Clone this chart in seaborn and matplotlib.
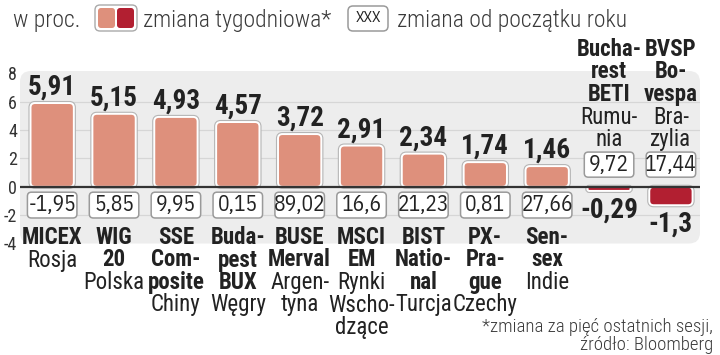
import matplotlib
matplotlib.use("Agg")
import matplotlib.pyplot as plt
import matplotlib.patheffects as pe
import matplotlib.transforms as mtransforms
from matplotlib.patches import FancyBboxPatch
import pandas as pd
import seaborn as sns

# --- data ---
names = ["MICEX", "WIG 20", "SSE Composite", "Budapest BUX", "BUSE Merval", "MSCI EM",
         "BIST National", "PX-Prague", "Sensex", "Bucharest BETI", "BVSP Bovespa"]
name_lines = ["MICEX", "WIG\n20", "SSE\nCom-\nposite", "Buda-\npest\nBUX", "BUSE\nMerval",
              "MSCI\nEM", "BIST\nNatio-\nnal", "PX-\nPra-\ngue", "Sen-\nsex",
              "Bucha-\nrest\nBETI", "BVSP\nBo-\nvespa"]
countries = ["Rosja", "Polska", "Chiny", "Węgry", "Argen-\ntyna", "Rynki\nWscho-\ndzące",
             "Turcja", "Czechy", "Indie", "Rumu-\nnia", "Bra-\nzylia"]
weekly = [5.91, 5.15, 4.93, 4.57, 3.72, 2.91, 2.34, 1.74, 1.46, -0.29, -1.3]
ytd = [-1.95, 5.85, 9.95, 0.15, 89.02, 16.6, 21.23, 0.81, 27.66, 9.72, 17.44]
yticks = [-4, -2, 0, 2, 4, 6, 8]

UP = "#de907c"
DOWN = "#b21f31"
INK = "#222222"
SOFT = "#3a3a3a"
W, H = 720, 355
COND = ["Roboto Condensed", "DejaVu Sans"]
PLEX = ["IBM Plex Sans Condensed", "Roboto Condensed", "DejaVu Sans"]


def fmt(v):
    return str(v).replace(".", ",")


def inch(px, py):
    # pixel position (top-left origin) -> inches for dpi_scale_trans
    return px / 100, (H - py) / 100


sns.set_theme(style="white")
plt.rcParams["font.family"] = COND
plt.rcParams["axes.unicode_minus"] = False

df = pd.DataFrame({"name": names, "weekly": weekly})
df["dir"] = ["up" if v >= 0 else "down" for v in weekly]

fig = plt.figure(figsize=(W / 100, H / 100), dpi=100)
ax = fig.add_axes([20 / W, (H - 243.5) / H, 680 / W, 172.5 / H])
ax.set_facecolor("none")

sns.barplot(data=df, x="name", y="weekly", hue="dir", palette={"up": UP, "down": DOWN},
            width=0.7, saturation=1, legend=False, ax=ax, zorder=3)

ax.set_xlim(-0.52, 10.47)
ax.set_ylim(-4.0, 8.17)
ax.set_yticks(yticks)
ax.set_yticklabels([str(t) for t in yticks], fontsize=13, color="#333333")
ax.tick_params(axis="y", length=0, pad=2)
ax.set_xticks([])
ax.set_xlabel("")
ax.set_ylabel("")
for s in ax.spines.values():
    s.set_visible(False)

# rounded grey panel behind the bars
bb = ax.get_window_extent()
panel = FancyBboxPatch((0, 0), 1, 1, boxstyle="round,pad=0,rounding_size=0.016",
                       mutation_aspect=bb.width / bb.height, transform=ax.transAxes,
                       fc="#ededed", ec="none", zorder=0, clip_on=False)
ax.add_patch(panel)
for t in [-2, 2, 4, 6]:
    ax.axhline(t, color="#d6d6d6", lw=0.9, zorder=1)
ax.axhline(0, color="#333333", lw=1.6, zorder=4)

# swap seaborn's rectangles for rounded ones
ppx = bb.width / (10.47 + 0.52)
ppy = bb.height / (8.17 + 4.0)
asp = ppx / ppy
for p in list(ax.patches):
    if p is panel:
        continue
    x, y, w, h = p.get_x(), p.get_y(), p.get_width(), p.get_height()
    if h < 0:
        y, h = y + h, -h
    r = min(4.5 / ppx, h * ppy / ppx / 2)
    fb = FancyBboxPatch((x, y), w, h, boxstyle=f"round,pad=0,rounding_size={r}",
                        mutation_aspect=asp, fc=p.get_facecolor(), ec="white", lw=1.4,
                        zorder=3)
    fb.set_path_effects([pe.Stroke(linewidth=3.0, foreground="#b5b5b5"), pe.Normal()])
    ax.add_patch(fb)
    p.remove()

# weekly value labels and year-to-date boxes
bw = 0.8
for i, (v, yv) in enumerate(zip(weekly, ytd)):
    if v >= 0:
        ax.annotate(fmt(v), xy=(i, v), xytext=(0, 6), textcoords="offset points",
                    ha="center", va="baseline", fontsize=19.5, fontweight="bold", color=INK)
        y0, y1 = -2.2, -0.38
    else:
        ax.annotate(fmt(v), xy=(i, v), xytext=(0, -4), textcoords="offset points",
                    ha="center", va="top", fontsize=19.5, fontweight="bold", color=INK)
        y0, y1 = 0.68, 2.45
    box = FancyBboxPatch((i - bw / 2, y0), bw, y1 - y0,
                         boxstyle=f"round,pad=0,rounding_size={4 / ppx}",
                         mutation_aspect=asp, fc="white", ec="#9a9a9a", lw=1.1, zorder=5)
    ax.add_patch(box)
    ax.text(i, (y0 + y1) / 2, fmt(yv), ha="center", va="center", fontsize=15.5,
            family=PLEX, color=INK, zorder=6)

# category labels: index name in bold, country in regular weight
tr = mtransforms.blended_transform_factory(ax.transData, fig.dpi_scale_trans)
for i in range(len(names)):
    lines = [(s, "bold") for s in name_lines[i].split("\n")]
    lines += [(s, "normal") for s in countries[i].split("\n")]
    base = 56 if weekly[i] < 0 else 244
    for k, (s, wgt) in enumerate(lines):
        ax.text(i, (H - (base + 22.5 * k)) / 100, s, transform=tr, ha="center",
                va="baseline", fontsize=16.5, fontweight=wgt, color=INK, clip_on=False)

# legend row
ds = fig.dpi_scale_trans
fig.text(*inch(13, 27), "w proc.", transform=ds, fontsize=17, color=SOFT,
         va="baseline", fontweight="light")
fig.patches.append(FancyBboxPatch(inch(95, 31), 0.42, 0.26,
                                  boxstyle="round,pad=0,rounding_size=0.05",
                                  fc="white", ec="#aaaaaa", lw=1, transform=ds, figure=fig))
fig.patches.append(FancyBboxPatch(inch(98, 28), 0.17, 0.20,
                                  boxstyle="round,pad=0,rounding_size=0.03",
                                  fc=UP, ec="none", transform=ds, figure=fig))
fig.patches.append(FancyBboxPatch(inch(117, 28), 0.17, 0.20,
                                  boxstyle="round,pad=0,rounding_size=0.03",
                                  fc=DOWN, ec="none", transform=ds, figure=fig))
fig.text(*inch(143, 27), "zmiana tygodniowa*", transform=ds, fontsize=17,
         color=SOFT, va="baseline", fontweight="light")
fig.patches.append(FancyBboxPatch(inch(348, 31), 0.40, 0.25,
                                  boxstyle="round,pad=0,rounding_size=0.05",
                                  fc="white", ec="#9a9a9a", lw=1.1, transform=ds, figure=fig))
fig.text(*inch(368, 18.5), "XXX", transform=ds, fontsize=11, color=INK,
         ha="center", va="center", family=PLEX)
fig.text(*inch(397, 27), "zmiana od początku roku", transform=ds, fontsize=17,
         color=SOFT, va="baseline", fontweight="light")

# footnote
fig.text(*inch(713, 332), "*zmiana za pięć ostatnich sesji,", transform=ds, fontsize=13.5,
         color=SOFT, ha="right", va="baseline", fontweight="light")
fig.text(*inch(713, 350), "źródło: Bloomberg", transform=ds, fontsize=13.5,
         color=SOFT, ha="right", va="baseline", fontweight="light")

fig.savefig("out.png", dpi=100)
